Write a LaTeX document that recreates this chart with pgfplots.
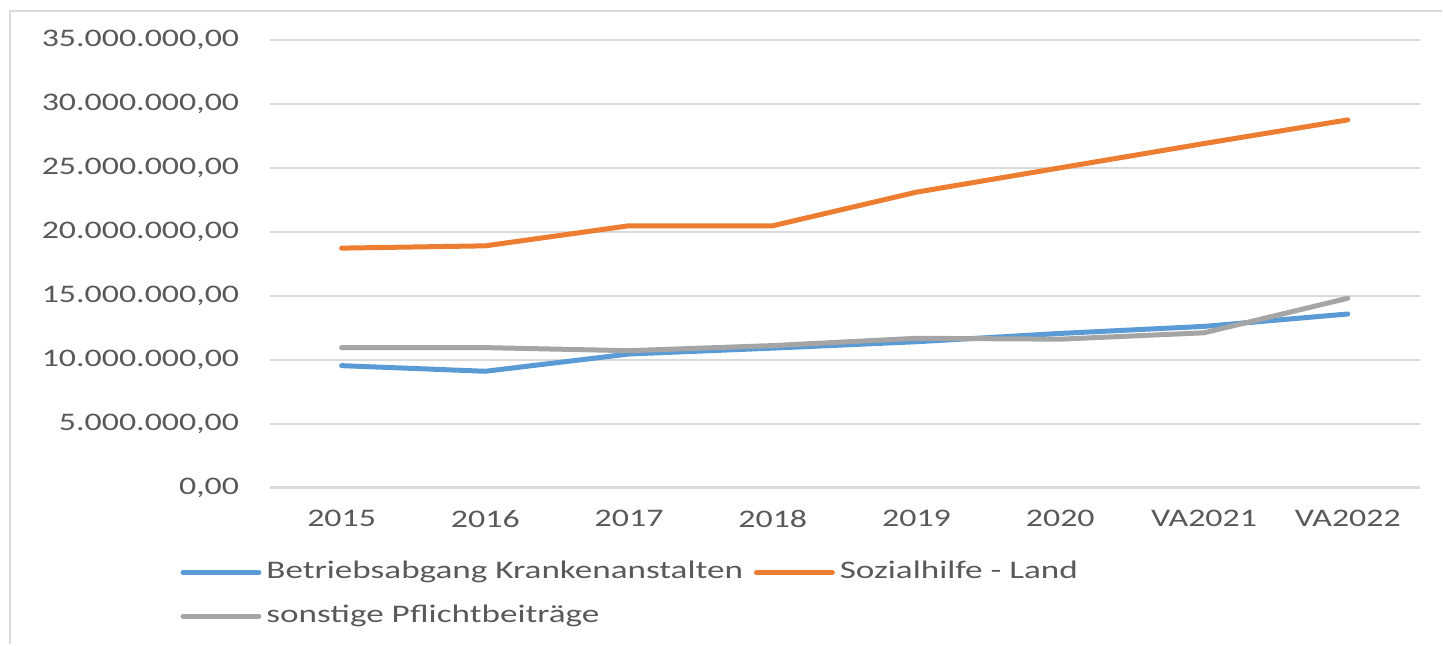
\documentclass[border=0pt]{standalone}
\usepackage{pgfplots}
\pgfplotsset{compat=1.18}
\usepackage{fontspec}
\setmainfont{Carlito}[FakeStretch=1.34]
\newfontfamily\legfont{Carlito}[FakeStretch=1.39]
\definecolor{serA}{HTML}{5B9BD5}
\definecolor{serB}{HTML}{ED7D31}
\definecolor{serC}{HTML}{A5A5A5}
\definecolor{gridc}{HTML}{D9D9D9}
\definecolor{txt}{HTML}{595959}
\begin{document}
\begin{tikzpicture}[font=\fontsize{7.2}{8.6}\selectfont]
  \begin{axis}[
    scale only axis, width=115.1mm, height=44.8mm,
    at={(0,0)}, anchor=south west,
    xmin=-0.5, xmax=7.5, ymin=0, ymax=35000000,
    xtick={0,...,7},
    xticklabels={2015,2016,2017,2018,2019,2020,VA2021,VA2022},
    ytick={0,5000000,10000000,15000000,20000000,25000000,30000000,35000000},
    yticklabels={{0,00},{5.000.000,00},{10.000.000,00},{15.000.000,00},
                 {20.000.000,00},{25.000.000,00},{30.000.000,00},{35.000.000,00}},
    scaled y ticks=false,
    ymajorgrids, grid style={gridc, line width=0.6pt},
    axis line style={draw=none}, tick style={draw=none},
    major tick length=0pt,
    ticklabel style={text=txt, inner sep=0pt},
    yticklabel shift=3mm, xticklabel shift=2.2mm,
    legend columns=2,
    legend style={at={(axis description cs:-0.0782,-0.152)}, anchor=north west,
      draw=none, fill=none, text=txt, inner sep=0pt,
      font={\legfont\fontsize{7.2}{8.6}\selectfont},
      nodes={inner sep=0.5mm, anchor=west},
      /tikz/every even column/.append style={column sep=0.6mm},
      row sep=1.1mm},
    legend image code/.code={\draw[#1, line cap=round] (0mm,0mm) -- (7.6mm,0mm);},
    every axis plot/.append style={line width=0.5mm, line join=round, line cap=round},
  ]
    \addplot[serA] coordinates {
      (0,9530000) (1,9090000) (2,10440000) (3,10900000)
      (4,11400000) (5,12050000) (6,12600000) (7,13570000)};
    \addlegendentry{Betriebsabgang Krankenanstalten}
    \addplot[serB] coordinates {
      (0,18720000) (1,18900000) (2,20470000) (3,20470000)
      (4,23100000) (5,25000000) (6,26900000) (7,28750000)};
    \addlegendentry{Sozialhilfe - Land}
    \addplot[serC] coordinates {
      (0,10940000) (1,10940000) (2,10700000) (3,11100000)
      (4,11670000) (5,11600000) (6,12100000) (7,14800000)};
    \addlegendentry{sonstige Pflichtbeiträge}
  \end{axis}
  \draw[gridc, line width=0.8pt] (-26mm,-15.7mm) -- (-26mm,47.7mm) -- (117.3mm,47.7mm);
  \path[use as bounding box] (-27mm,-15.7mm) rectangle (117.3mm,48.8mm);
\end{tikzpicture}
\end{document}
